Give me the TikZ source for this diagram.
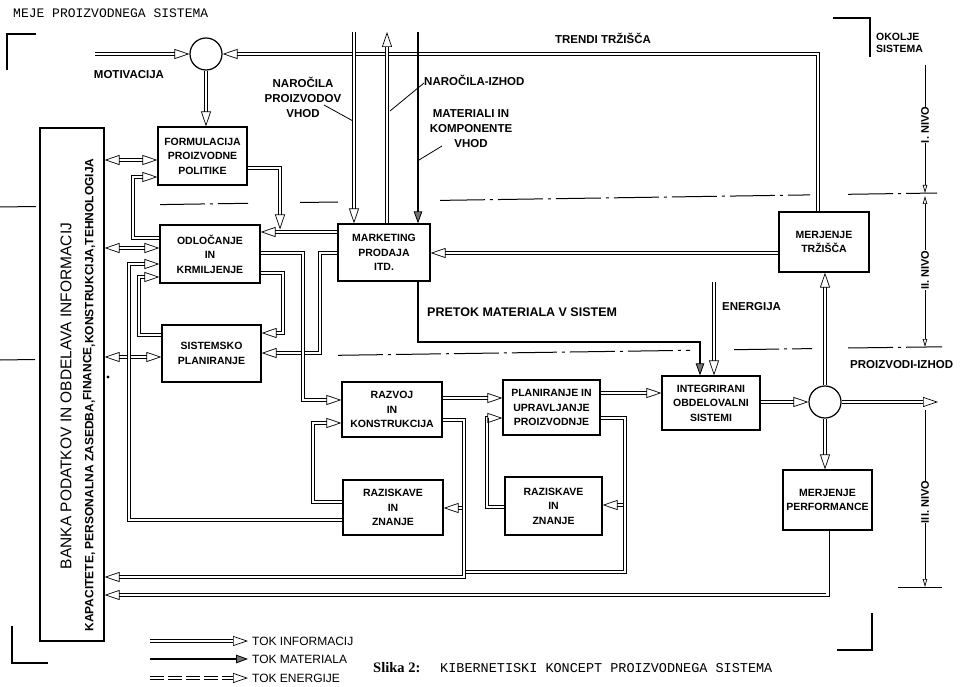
\documentclass[tikz,border=0pt]{standalone}
\usepackage{fontspec}
\setmainfont{Liberation Sans}
\newfontfamily\monofont{Liberation Mono}
\newfontfamily\serfont{Liberation Serif}
\usetikzlibrary{arrows.meta}
\begin{document}
\begin{tikzpicture}[x=1pt,y=-1pt,
 box/.style={draw,line width=1.2pt,align=center,inner sep=1pt,font=\bfseries\fontsize{10.5}{14.5}\selectfont},
 lab/.style={inner sep=0pt,align=center,font=\bfseries\fontsize{11.5}{15}\selectfont},
 lvl/.style={inner sep=0pt,rotate=90,font=\bfseries\fontsize{11}{13}\selectfont},
 otip/.tip={Triangle[open,length=15pt,width=10pt,line width=0.7pt]},
 info/.style={line width=0.7pt,double,double distance=2.6pt,-otip},
 infobi/.style={line width=0.7pt,double,double distance=2.6pt,otip-otip},
 infoline/.style={line width=0.7pt,double,double distance=2.6pt},
 mat/.style={line width=2.2pt,-{Triangle[length=12pt,width=8.5pt,fill=black!55,line width=0.8pt]}},
 dimtip/.tip={Triangle[open,length=8pt,width=4.5pt,line width=0.7pt]},
 dimline/.style={line width=0.8pt},
 dashdot/.style={line width=1pt,dash pattern=on 45pt off 5pt on 3pt off 5pt},
 corner/.style={line width=2pt},
 leader/.style={line width=0.8pt}
]
\useasboundingbox (0,0) rectangle (977,687);
\fill[white] (0,0) rectangle (977,687);

% header and caption
\node[anchor=west,inner sep=0,font=\monofont\fontsize{13}{15}\selectfont] (hdr) at (13,13) {MEJE PROIZVODNEGA SISTEMA};
\node[anchor=west,inner sep=0,font=\serfont\bfseries\fontsize{14.5}{16}\selectfont] (slika) at (373,668) {Slika 2:};
\node[anchor=west,inner sep=0,font=\monofont\fontsize{13.5}{15}\selectfont] (cap) at (440,668) {KIBERNETISKI KONCEPT PROIZVODNEGA SISTEMA};

% corners
\draw[corner] (36,34) -- (7,34) -- (7,70);
\draw[corner] (833,18) -- (870,18) -- (870,57);
\draw[corner] (12,626) -- (12,663) -- (48,663);
\draw[corner] (837,650) -- (872,650) -- (872,613);
\node[anchor=north west,inner sep=0,align=left,font=\bfseries\fontsize{10.5}{11.5}\selectfont] (okolje) at (876,33) {OKOLJE\\SISTEMA};

% level boundaries
\draw[dashdot] (0,207) -- (36,206.5);
\draw[dashdot] (160,204.6) -- (248,203.3);
\draw[dashdot] (300,202.5) -- (338,202);
\draw[dashdot] (440,200.4) -- (810,194.9);
\draw[dashdot] (848,194.3) -- (937,193);
\draw[dashdot] (0,360) -- (35,359.5);
\draw[dashdot] (338,355.3) -- (690,350.3);
\draw[dashdot] (734,349.7) -- (812,348.6);
\draw[dashdot] (848,348) -- (942,346.8);
\draw[dimline] (898,587) -- (942,587);

% level indicators
\node[lvl] (l1) at (925,125) {I. NIVO};
\node[lvl] (l2) at (925,270) {II. NIVO};
\node[lvl] (l3) at (925,502) {III. NIVO};
\draw[dimline] (925,65) -- (l1.east);
\draw[dimline,-dimtip] (l1.west) -- (925,193);
\draw[dimline,-dimtip] (l2.east) -- (925,196);
\draw[dimline,-dimtip] (l2.west) -- (925,347);
\draw[dimline] (925,410) -- (l3.east);
\draw[dimline,-dimtip] (l3.west) -- (925,587);

% boxes
\node[draw,line width=1.2pt,minimum width=64pt,minimum height=513pt] (banka) at (72,384.5) {};
\node[rotate=90,inner sep=0,font=\fontsize{15.5}{17}\selectfont] (bt1) at (66,396) {BANKA PODATKOV IN OBDELAVA INFORMACIJ};
\node[rotate=90,inner sep=0,font=\bfseries\fontsize{12}{13}\selectfont] (bt2) at (89,395) {KAPACITETE, PERSONALNA ZASEDBA,\raisebox{2pt}{FINANCE},KONSTRUKCIJA,TEHNOLOGIJA};

\node[box,minimum width=89pt,minimum height=58pt] (form) at (202.5,156) {FORMULACIJA\\PROIZVODNE\\POLITIKE};
\node[box,minimum width=100pt,minimum height=58pt] (odl) at (210,254) {ODLOČANJE\\IN\\KRMILJENJE};
\node[box,minimum width=99pt,minimum height=57pt] (sis) at (211.5,353.5) {SISTEMSKO\\PLANIRANJE};
\node[box,minimum width=92pt,minimum height=57pt] (mkt) at (384,252.5) {MARKETING\\PRODAJA\\ITD.};
\node[box,minimum width=90pt,minimum height=60pt] (mt) at (824,242) {MERJENJE\\TRŽIŠČA};
\node[box,minimum width=100pt,minimum height=55pt] (raz) at (392,409.5) {RAZVOJ\\IN\\KONSTRUKCIJA};
\node[box,minimum width=100pt,minimum height=55pt] (ris1) at (393,507.5) {RAZISKAVE\\IN\\ZNANJE};
\node[box,minimum width=97pt,minimum height=55pt] (plan) at (551.5,407.5) {PLANIRANJE IN\\UPRAVLJANJE\\PROIZVODNJE};
\node[box,minimum width=97pt,minimum height=58pt] (ris2) at (553.5,506) {RAZISKAVE\\IN\\ZNANJE};
\node[box,minimum width=98pt,minimum height=54pt] (int) at (711,403) {INTEGRIRANI\\OBDELOVALNI\\SISTEMI};
\node[box,minimum width=89pt,minimum height=60pt,inner sep=0pt] (mp) at (827.5,500) {MERJENJE\\PERFORMANCE};
\node[circle,draw,line width=1.2pt,minimum size=32pt,inner sep=0] (c1) at (206,54) {};
\node[circle,draw,line width=1.2pt,minimum size=32pt,inner sep=0] (c2) at (825,402) {};
\fill (108,377) circle (1.6pt);

% labels
\node[lab] (motiv) at (129,75) {MOTIVACIJA};
\node[lab] (trendi) at (603,38) {TRENDI TRŽIŠČA};
\node[lab] (narpv) at (303,97) {NAROČILA\\PROIZVODOV\\VHOD};
\node[lab,anchor=west] (nariz) at (424,80) {NAROČILA-IZHOD};
\node[lab] (matin) at (471,129) {MATERIALI IN\\KOMPONENTE\\VHOD};
\node[lab,anchor=west,font=\bfseries\fontsize{12.5}{15}\selectfont] (pretok) at (427,312) {PRETOK MATERIALA V SISTEM};
\node[lab,anchor=west] (energ) at (722,307) {ENERGIJA};
\node[lab,anchor=west] (proizv) at (850,365) {PROIZVODI-IZHOD};

% top inputs / outputs
\coordinate (motin) at (95,54);
\coordinate (narin) at (354,32);
\coordinate (narout) at (387,32);
\coordinate (matintop) at (418,32);
\coordinate (proout) at (938,402);
\coordinate (entop) at (714,282);
\draw[info] (motin) -- (c1.west);
\draw[info] (mt.north -| 818,0) |- (c1.east);
\draw[info] (c1.south) -- (c1.south |- form.north);
\draw[info] (narin) -- (narin |- mkt.north);
\draw[info] (narout |- mkt.north) -- (narout);
\draw[mat] (matintop) -- (matintop |- mkt.north);

% leaders
\coordinate (ld1) at (353,121);
\coordinate (ld2) at (390,111);
\coordinate (ld3) at (419,160);
\draw[leader] (324,105) -- (ld1);
\draw[leader] (nariz.west) ++(0,3) -- (ld2);
\draw[leader] (442,146) -- (ld3);

% banka links
\draw[infobi] (banka.east |- 0,160) -- (form.west |- 0,160);
\draw[infobi] (banka.east |- 0,248) -- (odl.west |- 0,248);
\draw[infobi] (banka.east |- 0,357) -- (sis.west |- 0,357);

% level I/II internal
\draw[info] (odl.west |- 0,238) -| (133,177) -- (form.west |- 0,177);
\draw[info] (mkt.west |- 0,232) -- (odl.east |- 0,232);
\draw[info] (form.east |- 0,168) -| (280,229.5);
\draw[info] (odl.east |- 0,273) -| (283,333) -- (sis.east |- 0,333);
\draw[info] (mkt.west |- 0,253) -| (320,353) -- (sis.east |- 0,353);
\draw[info] (odl.east |- 0,253) -| (303,400) -- (raz.west |- 0,400);
\draw[info] (sis.west |- 0,335) -| (139,277) -- (odl.west |- 0,277);
\draw[info] (ris1.west |- 0,520) -| (129,264) -- (odl.west |- 0,264);
\draw[info] (mt.west |- 0,253) -- (mkt.east |- 0,253);

% level III
\draw[info] (ris1.west |- 0,502) -| (313,423) -- (raz.west |- 0,423);
\draw[info] (raz.east |- 0,398) -- (plan.west |- 0,398);
\draw[info] (ris2.west |- 0,507) -| (487,418) -- (plan.west |- 0,418);
\draw[info] (plan.east |- 0,393) -- (int.west |- 0,393);
\draw[info] (625,505) -- (ris2.east |- 0,505);
\draw[infoline] (plan.east |- 0,418) -| (625,572) -- (464,572);
\draw[info] (464,508) -- (ris1.east |- 0,508);
\draw[info] (raz.east |- 0,420) -| (464,577) -- (banka.east |- 0,577);
\draw[info] (int.east |- 0,402) -- (c2.west);
\draw[info] (c2.north) -- (c2.north |- mt.south);
\draw[info] (c2.south) -- (c2.south |- mp.north);
\draw[info] (c2.east) -- (proout);
\draw[info] (mp.south) |- (banka.east |- 0,595);
\draw[info] (entop) -- (entop |- int.north);
\draw[mat] (mkt.south -| 418,0) |- (700,342) -- (700,0 |- int.north);

% legend
\coordinate (lg1a) at (150,641); \coordinate (lg1b) at (248,641);
\coordinate (lg2a) at (150,659); \coordinate (lg2b) at (248,659);
\coordinate (lg3a) at (150,678); \coordinate (lg3b) at (248,678);
\draw[info] (lg1a) -- (lg1b);
\draw[mat] (lg2a) -- (lg2b);
\draw[info,dash pattern=on 14pt off 4pt] (lg3a) -- (lg3b);
\node[anchor=west,inner sep=0,font=\fontsize{12}{14}\selectfont] (lt1) at (252,641) {TOK INFORMACIJ};
\node[anchor=west,inner sep=0,font=\fontsize{12}{14}\selectfont] (lt2) at (252,659) {TOK MATERIALA};
\node[anchor=west,inner sep=0,font=\fontsize{12}{14}\selectfont] (lt3) at (252,678) {TOK ENERGIJE};
\end{tikzpicture}
\end{document}
